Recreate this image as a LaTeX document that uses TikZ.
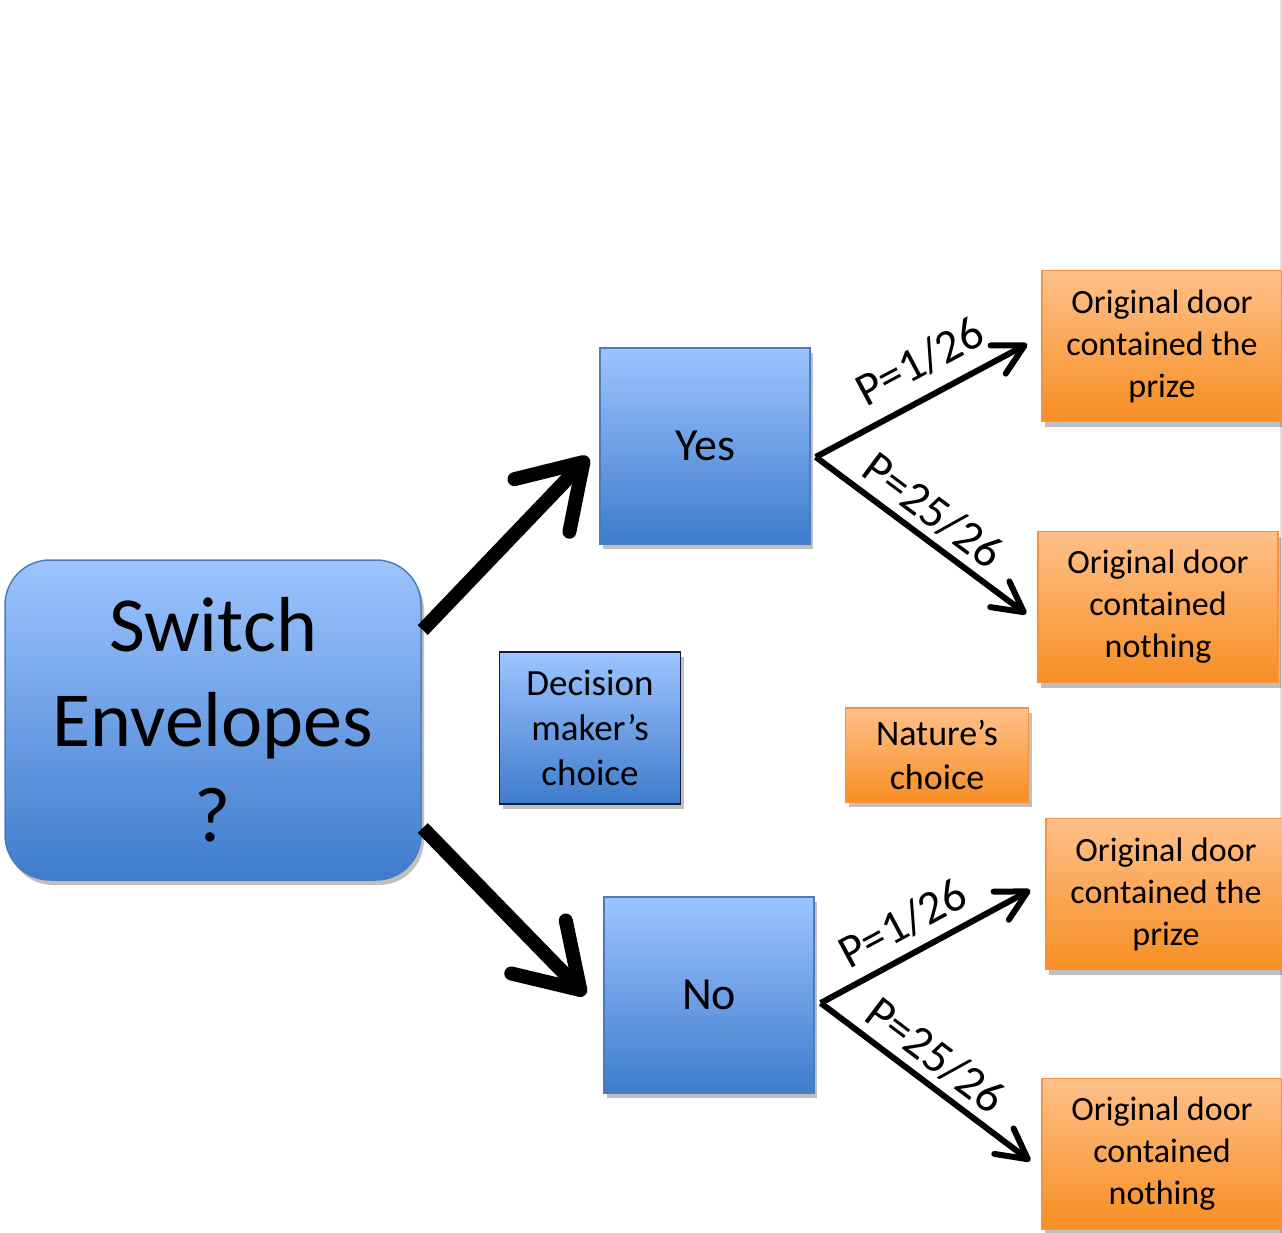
\documentclass[tikz,border=0pt]{standalone}
\usepackage{fontspec}
\setmainfont{Carlito}
\usetikzlibrary{arrows.meta,shadows}

\definecolor{bluetop}{RGB}{157,196,255}
\definecolor{bluebot}{RGB}{62,124,204}
\definecolor{blueedge}{RGB}{74,126,187}
\definecolor{orangetop}{RGB}{255,192,138}
\definecolor{orangebot}{RGB}{247,142,34}
\definecolor{orangeedge}{RGB}{246,146,64}
\definecolor{keynavy}{RGB}{20,30,60}

\tikzset{
  boxshadow/.style={drop shadow={shadow xshift=3pt,shadow yshift=-5pt,fill=black,opacity=.25}},
  choicebox/.style={draw=blueedge, line width=1.5pt, top color=bluetop, bottom color=bluebot,
    align=center, inner sep=0pt, boxshadow},
  outcomebox/.style={draw=orangeedge, line width=1.5pt, top color=orangetop, bottom color=orangebot,
    align=center, inner sep=0pt, minimum width=240pt, minimum height=151pt,
    font=\fontsize{34}{42}\selectfont, boxshadow},
  bigarrow/.style={line width=14pt, -{Straight Barb[length=60pt,width=76pt,round]}},
  smallarrow/.style={line width=6pt, -{Straight Barb[length=30pt,width=32pt,round]}},
  problabel/.style={sloped, inner sep=0pt, font=\fontsize{47}{55}\selectfont}
}

\begin{document}
\begin{tikzpicture}[x=1pt, y=-1pt]
  \useasboundingbox (0,0) rectangle (1282,1233);
  \draw[black!12, line width=2pt] (1281,0) -- (1281,1233);

  \node[choicebox, rounded corners=45pt, minimum width=416pt, minimum height=320pt,
        font=\fontsize{78}{95}\selectfont] (switch) at (213,720) {Switch\\Envelopes\\?};
  \node[choicebox, minimum width=210pt, minimum height=196pt,
        font=\fontsize{46}{55}\selectfont] (yes) at (705,446) {Yes};
  \node[choicebox, minimum width=210pt, minimum height=196pt,
        font=\fontsize{46}{55}\selectfont] (no) at (709,995) {No};
  \node[choicebox, draw=keynavy, minimum width=181pt, minimum height=152pt,
        font=\fontsize{37}{45}\selectfont] (deckey) at (590,728) {Decision\\maker’s\\choice};
  \node[outcomebox, minimum width=183pt, minimum height=94pt,
        font=\fontsize{36}{44}\selectfont] (natkey) at (937,755) {Nature’s\\choice};

  \node[outcomebox] (yesprize) at (1162,346) {Original door\\contained the\\prize};
  \node[outcomebox] (yesnothing) at (1158,607) {Original door\\contained\\nothing};
  \node[outcomebox] (noprize) at (1166,894) {Original door\\contained the\\prize};
  \node[outcomebox] (nonothing) at (1162,1154) {Original door\\contained\\nothing};

  % decision arrows
  \path[bigarrow]
    ([shift={(1,-90)}]switch.east) edge ([shift={(-11,11)}]yes.west)
    ([shift={(1,108)}]switch.east) edge ([shift={(-18,0)}]no.west);
  % chance arrows
  \path[smallarrow]
    ([shift={(5,11)}]yes.east) edge node[problabel, pos=.57, above=15pt] {P=1/26} ([shift={(-14,-2)}]yesprize.west)
                               edge node[problabel, pos=.48, above=7pt] {P=25/26} ([shift={(-11,7)}]yesnothing.west)
    ([shift={(6,8)}]no.east) edge node[problabel, pos=.46, above=11pt] {P=1/26} ([shift={(-15,-4)}]noprize.west)
                             edge node[problabel, pos=.47, above=7pt] {P=25/26} ([shift={(-11,7)}]nonothing.west);
\end{tikzpicture}
\end{document}
